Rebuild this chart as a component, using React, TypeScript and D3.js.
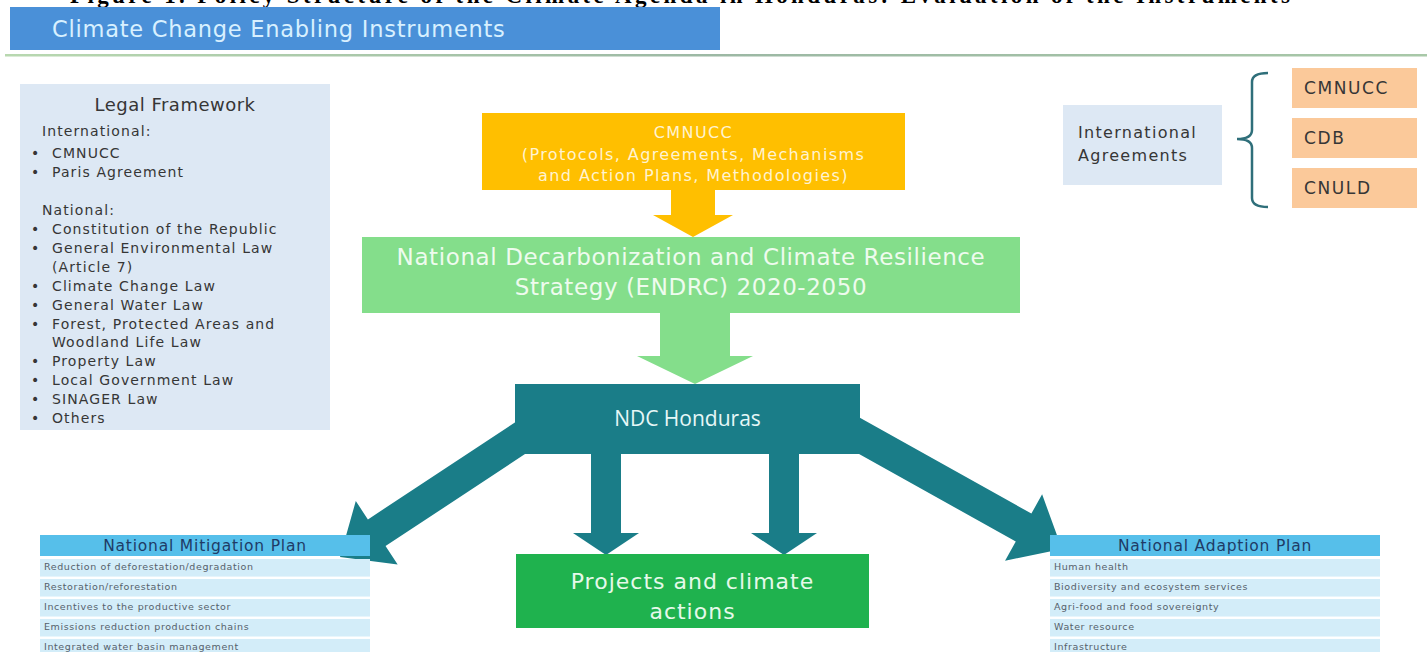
import React from "react";
import * as d3 from "d3";

const captionText = "Figure 1. Policy Structure of the Climate Agenda in Honduras: Evaluation of the Instruments";
const titleText = "Climate Change Enabling Instruments";
const legalTitle = "Legal Framework";
const legalInternational = ["CMNUCC", "Paris Agreement"];
const legalNational = [
  ["Constitution of the Republic"],
  ["General Environmental Law", "(Article 7)"],
  ["Climate Change Law"],
  ["General Water Law"],
  ["Forest, Protected Areas and", "Woodland Life Law"],
  ["Property Law"],
  ["Local Government Law"],
  ["SINAGER Law"],
  ["Others"],
];
const cmnuccLines = ["CMNUCC", "(Protocols, Agreements, Mechanisms", "and Action Plans, Methodologies)"];
const strategyLines = ["National Decarbonization and Climate Resilience", "Strategy (ENDRC) 2020-2050"];
const ndcLabel = "NDC Honduras";
const projectLines = ["Projects and climate", "actions"];
const agreementsLabel = ["International", "Agreements"];
const agreements = ["CMNUCC", "CDB", "CNULD"];
const mitigationTitle = "National Mitigation Plan";
const mitigationRows = [
  "Reduction of deforestation/degradation",
  "Restoration/reforestation",
  "Incentives to the productive sector",
  "Emissions reduction production chains",
  "Integrated water basin management",
];
const adaptationTitle = "National Adaption Plan";
const adaptationRows = [
  "Human health",
  "Biodiversity and ecosystem services",
  "Agri-food and food sovereignty",
  "Water resource",
  "Infrastructure",
];

const W = 1427;
const H = 652;
const FONT = "'DejaVu Sans', 'Noto Sans', sans-serif";
const FONT2 = "'Open Sans', 'Noto Sans', sans-serif";
const TEAL = "#1a7d88";
const DARK = "#363636";

type Pt = [number, number];
function arrowPath(from: Pt, to: Pt, shaftW: number, headW: number, headL: number) {
  const dx = to[0] - from[0];
  const dy = to[1] - from[1];
  const len = Math.hypot(dx, dy);
  const ux = dx / len, uy = dy / len;
  const px = -uy, py = ux;
  const bx = to[0] - ux * headL, by = to[1] - uy * headL;
  const p: Pt[] = [
    [from[0] + px * shaftW / 2, from[1] + py * shaftW / 2],
    [bx + px * shaftW / 2, by + py * shaftW / 2],
    [bx + px * headW / 2, by + py * headW / 2],
    to,
    [bx - px * headW / 2, by - py * headW / 2],
    [bx - px * shaftW / 2, by - py * shaftW / 2],
    [from[0] - px * shaftW / 2, from[1] - py * shaftW / 2],
  ];
  return d3.line()(p) + "Z";
}

function PlanTable({ x, y, w, title, rows }: { x: number; y: number; w: number; title: string; rows: string[] }) {
  const headH = 21;
  const step = 19.5;
  const band = d3.scaleBand<number>().domain(d3.range(rows.length)).range([y + headH + 3, y + headH + 3 + rows.length * step]).paddingInner(0.12);
  return (
    <g>
      <rect x={x} y={y} width={w} height={headH} fill="#56bfea" />
      <text x={x + w / 2} y={y + headH / 2 + 5.5} textAnchor="middle" fontFamily={FONT} fontSize={15.5} letterSpacing={0.8} fill="#1f3b66">{title}</text>
      {rows.map((r, i) => (
        <g key={i}>
          <rect x={x} y={band(i)!} width={w} height={band.bandwidth()} fill="#d3edf9" />
          <text x={x + 4} y={band(i)! + 11} fontFamily={FONT} fontSize={9.5} letterSpacing={0.6} fill="#56616b">{r}</text>
        </g>
      ))}
    </g>
  );
}

export default function App() {
  const legalX = 20, legalY = 84, legalW = 310, legalH = 346;
  const lineStep = 18.9;
  const natStart = 234;
  const natLines: { t: string; bullet: boolean; y: number }[] = [];
  let k = 0;
  legalNational.forEach((item) => {
    item.forEach((t, j) => {
      natLines.push({ t, bullet: j === 0, y: natStart + k * lineStep });
      k++;
    });
  });
  const itemFont = { fontFamily: FONT, fontSize: 14, letterSpacing: 1.1, fill: DARK } as const;

  const yellow = { x: 482, y: 113, w: 423, h: 77 };
  const strat = { x: 362, y: 237, w: 658, h: 76 };
  const ndc = { x: 515, y: 384, w: 345, h: 70 };
  const proj = { x: 516, y: 554, w: 353, h: 74 };
  const agreeScale = d3.scaleBand<number>().domain(d3.range(agreements.length)).range([68, 208]).paddingInner(0.2);

  return (
    <svg width={W} height={H} style={{ position: "absolute", left: 0, top: 0, background: "#fff" }}>
      <defs>
        <linearGradient id="rule" x1="0" x2="1">
          <stop offset="0" stopColor="#b8d8b0" />
          <stop offset="0.5" stopColor="#9cb8a4" />
          <stop offset="1" stopColor="#a8c8a8" />
        </linearGradient>
      </defs>
      <rect width={W} height={H} fill="#ffffff" />
      <text x={70} y={3} fontFamily="'Liberation Serif', 'Times New Roman', serif" fontWeight="bold" fontSize={23} fill="#000" textLength={1220}>{captionText}</text>

      <rect x={10} y={7} width={710} height={43} fill="#4a90d8" />
      <text x={52} y={37} fontFamily={FONT} fontSize={22.5} letterSpacing={0.75} fill="#d8f0ff">{titleText}</text>
      <rect x={5} y={54} width={W - 5} height={2.5} fill="url(#rule)" />

      <rect x={legalX} y={legalY} width={legalW} height={legalH} fill="#dde8f4" />
      <text x={legalX + legalW / 2} y={111} textAnchor="middle" fontFamily={FONT} fontSize={18} letterSpacing={0.5} fill={DARK}>{legalTitle}</text>
      <text x={42} y={136} {...itemFont}>International:</text>
      {legalInternational.map((t, i) => (
        <g key={t}>
          <text x={31} y={158 + i * 19} {...itemFont}>•</text>
          <text x={52} y={158 + i * 19} {...itemFont}>{t}</text>
        </g>
      ))}
      <text x={42} y={215} {...itemFont}>National:</text>
      {natLines.map((l, i) => (
        <g key={i}>
          {l.bullet && <text x={31} y={l.y} {...itemFont}>•</text>}
          <text x={52} y={l.y} {...itemFont}>{l.t}</text>
        </g>
      ))}

      <rect x={yellow.x} y={yellow.y} width={yellow.w} height={yellow.h} fill="#ffbf00" />
      {cmnuccLines.map((t, i) => (
        <text key={i} x={yellow.x + yellow.w / 2} y={138 + i * 21.5} textAnchor="middle" fontFamily={FONT} fontSize={16} letterSpacing={1.4} fill="#fff3d0">{t}</text>
      ))}
      <path d={arrowPath([693, yellow.y + yellow.h], [693, strat.y], 44, 80, 22)} fill="#ffbf00" />

      <rect x={strat.x} y={strat.y} width={strat.w} height={strat.h} fill="#84de8b" />
      {strategyLines.map((t, i) => (
        <text key={i} x={strat.x + strat.w / 2} y={265 + i * 30} textAnchor="middle" fontFamily={FONT} fontSize={23} letterSpacing={0.6} fill="#eefbee">{t}</text>
      ))}
      <path d={arrowPath([695, strat.y + strat.h], [695, ndc.y], 70, 116, 28)} fill="#84de8b" />

      <path d={arrowPath([540, 425], [340, 557], 32, 76, 44)} fill={TEAL} />
      <path d={arrowPath([840, 425], [1062, 549], 32, 76, 44)} fill={TEAL} />
      <path d={arrowPath([606, ndc.y + ndc.h - 2], [606, proj.y + 1], 30, 66, 22)} fill={TEAL} />
      <path d={arrowPath([784, ndc.y + ndc.h - 2], [784, proj.y + 1], 30, 66, 22)} fill={TEAL} />

      <rect x={ndc.x} y={ndc.y} width={ndc.w} height={ndc.h} fill={TEAL} />
      <text x={ndc.x + ndc.w / 2} y={ndc.y + 42} textAnchor="middle" fontFamily={FONT2} fontSize={21} fontWeight={500} fill="#e6f7f7">{ndcLabel}</text>

      <rect x={proj.x} y={proj.y} width={proj.w} height={proj.h} fill="#1fb24e" />
      {projectLines.map((t, i) => (
        <text key={i} x={proj.x + proj.w / 2} y={589 + i * 30} textAnchor="middle" fontFamily={FONT} fontSize={22} letterSpacing={1} fill="#e6f9ea">{t}</text>
      ))}

      <rect x={1063} y={105} width={159} height={80} fill="#dde8f4" />
      {agreementsLabel.map((t, i) => (
        <text key={i} x={1078} y={138 + i * 23} fontFamily={FONT} fontSize={16} letterSpacing={1.3} fill={DARK}>{t}</text>
      ))}
      <path d="M1268,73 Q1252,73 1252,82 L1252,130 Q1252,139 1237,139 Q1252,139 1252,148 L1252,198 Q1252,207 1268,207" fill="none" stroke="#2f6f7a" strokeWidth={2.5} />
      {agreements.map((t, i) => (
        <g key={t}>
          <rect x={1292} y={agreeScale(i)!} width={125} height={agreeScale.bandwidth()} fill="#fbc99a" />
          <text x={1304} y={agreeScale(i)! + agreeScale.bandwidth() / 2 + 6} fontFamily={FONT} fontSize={17} letterSpacing={1.6} fill={DARK}>{t}</text>
        </g>
      ))}

      <PlanTable x={40} y={535} w={330} title={mitigationTitle} rows={mitigationRows} />
      <PlanTable x={1050} y={535} w={330} title={adaptationTitle} rows={adaptationRows} />
    </svg>
  );
}
